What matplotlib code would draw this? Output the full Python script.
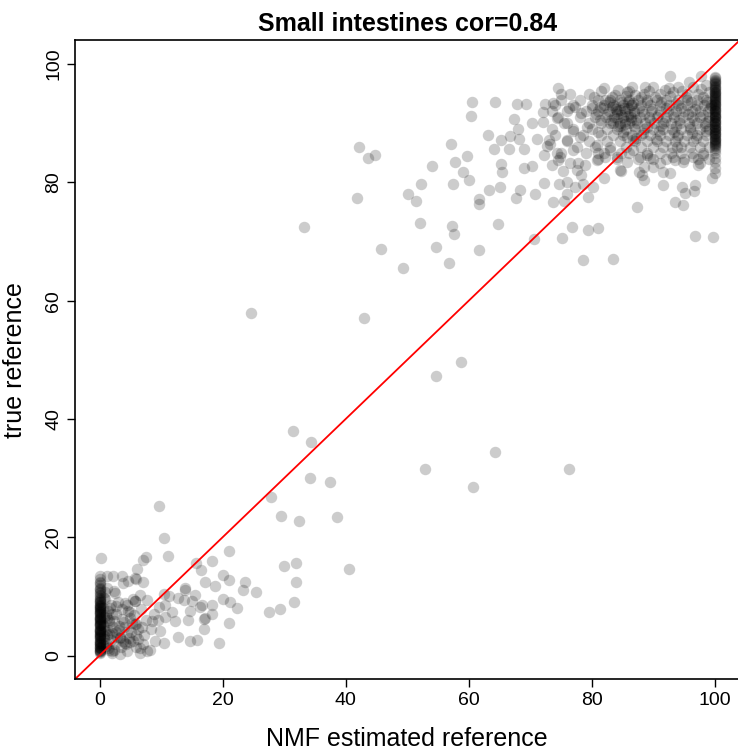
import numpy as np
import matplotlib.pyplot as plt

plt.rcParams['font.family'] = ['Liberation Sans', 'DejaVu Sans']

# points: NMF estimate (x) vs true reference (y)
# sparse points in the middle of the plot
mid_x = [42.2, 43.6, 44.8, 41.9, 33.2, 45.7, 49.3, 24.6, 42.9,
         31.5, 34.3, 34.2, 37.5, 27.8, 29.5, 32.4, 38.6, 40.5,
         58.8, 54.6, 64.3, 52.9, 76.2, 60.6]
mid_y = [86.0, 84.1, 84.6, 77.3, 72.4, 68.7, 65.5, 57.9, 57.1,
         38.0, 36.1, 30.1, 29.3, 26.8, 23.6, 22.8, 23.4, 14.7,
         49.6, 47.3, 34.4, 31.5, 31.5, 28.5]

# upper group, loosely spread part
up_x = [56.8, 61.7, 54.7, 57.2, 57.6, 52.0, 64.7, 70.6, 75.2, 76.8, 79.3, 81.0,
        78.5, 83.5, 87.3, 96.8, 99.7, 93.5, 94.8, 94.6, 95.2, 96.6, 96.7,
        91.6, 88.4, 87.7, 99.5, 92.7, 97.8, 75.0, 60.5, 64.3, 67.9, 69.3, 60.4,
        67.4, 63.1, 57.1, 59.7, 57.8, 54.0, 59.1, 60.1, 57.4, 52.2, 50.1, 51.5,
        61.7, 61.6, 63.2, 65.1, 67.6, 68.3, 70.8, 72.2, 74.7, 73.7, 75.5, 75.9,
        77.3, 78.6, 80.2, 79.4, 65.2, 65.4, 69.0, 70.3, 64.1, 65.2, 66.5, 66.7,
        68.1, 69.0, 68.0, 70.2, 71.0, 72.1, 72.0, 72.3, 73.7, 74.3, 73.0, 72.7,
        72.2, 74.3, 73.5, 74.8, 75.3, 76.4, 77.0, 77.5, 78.3, 78.9, 75.9, 77.0,
        75.5, 76.2, 77.3, 78.3, 79.2, 78.1, 80.0, 81.3, 81.3, 81.0, 82.1, 80.8,
        81.0, 82.1, 82.9, 84.6, 84.0, 85.7, 86.7, 87.8, 88.9, 88.4, 90.0, 91.1,
        91.6, 92.7, 93.2, 93.8, 94.8, 96.4, 97.2, 98.0, 86.7, 85.7, 73.2, 74.5,
        88.2, 84.7, 81.9, 77.8, 89.4, 93.5, 97.6, 84.8, 80.8, 75.9]
up_y = [66.3, 68.5, 69.1, 72.6, 71.2, 73.2, 72.9, 70.4, 70.6, 72.4, 71.9, 72.2,
        66.9, 67.0, 75.9, 70.9, 70.8, 76.6, 76.2, 79.2, 78.2, 78.6, 79.5,
        79.6, 80.4, 81.7, 80.7, 97.9, 98.0, 94.9, 93.6, 93.5, 93.2, 93.2, 91.3,
        90.7, 88.0, 86.5, 84.5, 83.5, 82.8, 81.7, 80.4, 79.7, 79.7, 78.1, 76.8,
        77.1, 76.4, 78.7, 79.2, 77.3, 78.7, 78.1, 79.9, 79.8, 76.6, 76.8, 78.1,
        79.2, 79.8, 79.2, 77.5, 83.1, 81.7, 82.5, 82.8, 85.6, 87.1, 85.6, 87.9,
        87.3, 85.7, 89.1, 90.0, 87.3, 90.2, 91.9, 93.3, 93.4, 90.8, 87.1, 86.1,
        84.6, 85.0, 82.9, 84.3, 81.9, 83.2, 85.4, 82.1, 81.2, 82.9, 87.1, 88.7,
        90.0, 92.5, 92.8, 91.7, 89.4, 87.7, 92.5, 92.8, 90.5, 88.5, 93.9, 86.3,
        84.9, 84.3, 85.4, 82.1, 84.3, 83.5, 85.4, 84.3, 84.6, 82.6, 82.6, 83.2,
        81.8, 81.5, 84.3, 86.0, 83.5, 84.3, 82.9, 84.6, 87.1, 87.7, 86.5, 83.8,
        81.2, 81.9, 80.8, 83.3, 84.2, 83.8, 83.2, 84.9, 83.8, 80.1]

# upper group, dense core (read row by row)
core_x = [74.5, 82.0, 86.5, 88.6, 90.0, 92.5, 94.0, 96.5, 98.5, 95.7,
          76.5, 79.5, 83.8, 85.7, 87.0, 88.5, 91.1, 93.2, 95.5, 97.3, 99.0,
          75.0, 78.0, 81.0, 83.0, 84.5, 86.0, 87.5, 89.0, 90.5, 92.0, 94.0, 95.5, 97.0, 98.5,
          74.0, 77.0, 80.0, 82.0, 83.5, 85.0, 86.5, 88.0, 89.5, 91.0, 92.5, 94.0, 95.5, 97.0, 98.2, 99.3,
          73.5, 76.0, 79.0, 81.0, 82.7, 84.0, 85.3, 86.8, 88.2, 89.6, 91.0, 92.3, 93.7, 95.0, 96.3, 97.6, 98.8,
          74.5, 78.0, 80.5, 82.3, 83.6, 85.0, 86.4, 87.8, 89.2, 90.6, 92.0, 93.4, 94.8, 96.2, 97.5, 99.0,
          76.0, 79.5, 81.5, 83.0, 84.5, 86.0, 87.3, 88.7, 90.1, 91.5, 92.9, 94.3, 95.7, 97.0, 98.4,
          73.5, 77.0, 80.0, 82.5, 84.0, 85.5, 87.0, 88.5, 90.0, 91.5, 93.0, 94.5, 96.0, 97.5, 99.0,
          74.0, 78.5, 81.5, 83.5, 85.0, 86.5, 88.0, 89.5, 91.0, 92.5, 94.0, 95.5, 97.0, 98.5,
          76.0, 79.5, 82.5, 84.5, 87.0, 89.0, 90.5, 92.0, 93.5, 95.0, 96.5, 98.0,
          77.5, 80.5, 83.0, 85.5, 88.0, 90.0, 91.5, 93.0, 94.5, 96.0, 97.5, 99.0,
          75.0, 79.0, 82.0, 86.0, 89.0, 91.0, 92.8, 94.5, 96.3, 98.0,
          81.0, 84.0, 87.5, 90.0, 92.0, 95.0, 97.2, 99.0,
          84.0, 85.2, 86.3, 83.5, 85.8, 84.6, 86.9, 83.2]
core_y = [96.0, 96.0, 96.2, 96.2, 96.2, 96.0, 96.2, 96.2, 96.5, 97.0,
          95.0, 95.0, 94.8, 95.3, 94.8, 95.0, 95.0, 95.3, 95.0, 95.0, 95.2,
          94.0, 94.0, 94.0, 94.0, 94.0, 94.0, 94.0, 94.0, 94.0, 94.0, 94.0, 94.0, 94.0, 94.0,
          93.0, 93.0, 93.0, 93.0, 93.0, 93.0, 93.0, 93.0, 93.0, 93.0, 93.0, 93.0, 93.0, 93.0, 93.0, 93.0,
          92.0, 92.0, 92.0, 92.0, 92.0, 92.0, 92.0, 92.0, 92.0, 92.0, 92.0, 92.0, 92.0, 92.0, 92.0, 92.0, 92.0,
          91.0, 91.0, 91.0, 91.0, 91.0, 91.0, 91.0, 91.0, 91.0, 91.0, 91.0, 91.0, 91.0, 91.0, 91.0, 91.0,
          90.0, 90.0, 90.0, 90.0, 90.0, 90.0, 90.0, 90.0, 90.0, 90.0, 90.0, 90.0, 90.0, 90.0, 90.0,
          89.0, 89.0, 89.0, 89.0, 89.0, 89.0, 89.0, 89.0, 89.0, 89.0, 89.0, 89.0, 89.0, 89.0, 89.0,
          88.0, 88.0, 88.0, 88.0, 88.0, 88.0, 88.0, 88.0, 88.0, 88.0, 88.0, 88.0, 88.0, 88.0,
          87.0, 87.0, 87.0, 87.0, 87.0, 87.0, 87.0, 87.0, 87.0, 87.0, 87.0, 87.0,
          86.0, 86.0, 86.0, 86.0, 86.0, 86.0, 86.0, 86.0, 86.0, 86.0, 86.0, 86.0,
          85.0, 85.0, 85.0, 85.0, 85.0, 85.0, 85.0, 85.0, 85.0, 85.0,
          84.0, 84.0, 84.0, 84.0, 84.0, 84.0, 84.0, 84.0,
          91.5, 92.5, 90.5, 90.0, 93.5, 89.5, 91.8, 92.8]

# dense core, in-between rows (darkest area around x 83-99)
core2_x = [81.5, 84.3, 86.1, 89.3, 91.8, 94.6, 97.8,
           80.3, 83.2, 85.6, 87.9, 90.2, 92.7, 95.3, 98.1,
           82.8, 84.9, 86.6, 88.9, 91.3, 93.6, 96.1, 98.7,
           81.8, 83.9, 85.9, 87.6, 89.8, 92.1, 94.4, 96.8, 99.2,
           80.6, 82.4, 84.7, 86.2, 88.4, 90.8, 93.1, 95.6, 98.0,
           83.1, 85.4, 87.2, 89.5, 91.9, 94.2, 96.6, 98.9,
           84.2, 86.8, 88.9, 91.2, 93.6, 95.9, 98.3,
           85.1, 88.3, 90.9, 93.4, 96.2, 98.6,
           87.1, 90.4, 93.8, 96.9,
           84.6, 85.9, 84.1, 86.4, 85.3, 83.8]
core2_y = [95.5, 95.6, 95.4, 95.5, 95.6, 95.5, 95.7,
           94.5, 94.4, 94.6, 94.5, 94.4, 94.6, 94.5, 94.5,
           93.5, 93.6, 93.4, 93.5, 93.6, 93.4, 93.5, 93.6,
           92.5, 92.4, 92.6, 92.5, 92.4, 92.6, 92.5, 92.4, 92.6,
           91.5, 91.6, 91.4, 91.5, 91.6, 91.4, 91.5, 91.6, 91.4,
           90.5, 90.4, 90.6, 90.5, 90.4, 90.6, 90.5, 90.4,
           89.5, 89.6, 89.4, 89.5, 89.6, 89.4, 89.5,
           88.5, 88.4, 88.6, 88.5, 88.4, 88.6,
           87.5, 87.4, 87.6, 87.5,
           92.2, 91.2, 90.8, 93.0, 89.8, 92.9]

# samples estimated at 100 %
top_col_y = [97.8, 97.3, 96.8, 96.3, 95.8, 95.3, 94.8, 94.3, 93.8, 93.3, 92.8,
             92.3, 91.8, 91.3, 90.8, 90.3, 89.8, 89.3, 88.8, 88.3, 87.8, 87.3,
             86.8, 86.3, 85.8, 85.0, 84.2, 83.5, 82.5, 81.5, 95.0, 93.0, 91.0,
             89.0, 87.0, 94.0, 92.0, 90.0, 88.0,
             97.6, 97.1, 96.6, 96.1, 95.6, 95.1, 94.6, 94.1, 93.6, 93.1, 92.6,
             92.1, 91.6, 91.1, 90.6, 90.1, 89.6, 89.1, 88.6, 88.1, 87.6, 87.1,
             86.6, 86.1, 97.0, 96.0, 95.2, 94.4, 93.4, 92.4, 91.4, 90.4, 89.4,
             88.4, 87.4, 86.4, 85.4]
top_col_x = [100.0] * len(top_col_y)

# lower group, spread part
low_x = [9.6, 10.4, 11.2, 0.2, 7.5, 7.1, 6.1, 21.0, 18.3, 15.6, 16.5, 20.0,
         21.1, 23.6, 23.3, 25.5, 29.9, 31.9, 32.0, 31.6, 29.4, 27.5, 18.8, 17.1,
         13.9, 15.5, 20.0, 22.3, 21.0, 19.4, 17.0, 18.2, 14.7, 15.8, 12.7, 11.3,
         12.7, 13.8, 15.0, 14.7, 17.1, 12.3, 10.6, 9.8, 10.4, 8.2, 6.6, 9.0,
         7.7, 5.7, 6.0, 7.1, 4.7, 3.6, 2.2, 1.2, 10.4, 9.6, 10.6, 11.7, 8.5,
         13.9, 21.2, 18.2, 16.6, 17.0, 16.3, 5.8, 3.8, 2.3, 14.3]
low_y = [25.3, 19.8, 16.9, 16.5, 16.6, 16.1, 14.7, 17.6, 15.9, 15.6, 14.5, 13.7,
         12.8, 12.5, 11.0, 10.8, 15.2, 15.6, 12.5, 9.1, 7.8, 7.3, 11.7, 12.5,
         11.4, 10.2, 9.6, 8.1, 5.5, 2.2, 4.5, 7.1, 2.4, 2.7, 3.2, 10.0,
         9.8, 9.4, 9.3, 7.5, 6.4, 5.9, 6.5, 4.2, 2.1, 1.0, 0.4, 2.5,
         9.4, 9.3, 13.0, 12.4, 12.6, 13.4, 13.5, 13.4, 10.4, 8.2, 8.5, 7.3, 5.9,
         11.0, 9.0, 8.6, 8.5, 6.2, 8.2, 13.1, 12.2, 10.9, 6.0]

# lower group, dense part near zero
base_x = [1.5, 2.5, 3.5, 4.5, 5.5, 6.5, 1.2, 2.2, 3.3, 4.4, 5.3, 6.2, 7.2,
          1.5, 2.6, 3.6, 4.6, 5.6, 6.7, 7.5, 1.8, 3.0, 4.2, 5.4, 6.5, 2.5,
          1.2, 8.3, 8.8, 9.5, 1.0, 2.0, 3.8, 4.8, 6.0, 7.0, 0.8, 1.3, 0.9,
          0.9, 5.8, 2.0, 5.0, 5.8, 6.9, 3.9, 2.8, 5.0, 6.0, 7.7, 2.0, 3.3,
          0.6, 0.7, 0.5, 0.8, 0.6, 0.7, 1.6, 2.4, 3.1, 4.1,
          1.1, 1.9, 2.7, 3.4, 4.3, 5.1, 6.3, 1.4, 2.3, 3.2, 4.0, 4.9, 5.9,
          1.0, 1.7, 2.6, 3.7, 4.5, 1.3, 2.1, 0.7, 1.5, 0.9, 1.2]
base_y = [1.0, 2.0, 1.5, 0.8, 2.5, 1.2, 3.5, 4.8, 3.2, 4.0, 5.5, 4.5, 3.4,
          6.0, 7.0, 6.2, 7.5, 6.8, 7.8, 6.0, 8.5, 9.0, 8.8, 9.6, 10.2, 10.5,
          11.5, 4.5, 7.0, 6.0, 2.2, 3.8, 2.5, 3.0, 3.5, 2.0, 5.0, 7.5, 9.5,
          10.7, 9.3, 7.1, 7.3, 5.4, 4.8, 4.8, 3.1, 2.3, 1.4, 0.8, 0.8, 0.3,
          1.8, 3.3, 5.2, 6.6, 8.1, 9.8, 5.6, 1.0, 5.0, 2.1,
          1.6, 2.6, 3.9, 2.9, 1.9, 3.9, 2.8, 4.4, 5.9, 4.3, 5.6, 6.4, 5.3,
          6.9, 8.0, 8.3, 7.9, 8.6, 1.2, 0.5, 2.8, 3.7, 4.1, 6.3]

# samples estimated at 0 %
zero_col_y = [0.5, 1.0, 1.5, 2.0, 2.5, 3.0, 3.5, 4.0, 4.5, 5.0, 5.5, 6.0, 6.5,
              7.0, 7.5, 8.0, 8.5, 9.0, 9.5, 10.0, 10.5, 11.0, 11.5, 12.0, 12.5,
              13.0, 13.5, 1.2, 2.2, 3.2, 4.2, 5.2, 6.2, 7.2, 8.2, 1.8, 3.8,
              5.8, 7.8, 0.8,
              0.6, 0.9, 1.3, 1.7, 2.1, 2.4, 2.8, 3.1, 3.4, 3.7, 4.1, 4.4, 4.7,
              5.1, 5.4, 5.7, 6.1, 6.4, 6.7, 7.1, 7.4, 7.7, 8.1, 8.4, 8.7, 9.1,
              9.4, 9.8, 10.3, 10.8, 11.3, 12.3, 0.7, 1.4, 2.3, 3.3, 4.3, 5.3,
              6.3, 7.3, 8.3, 9.3]
zero_col_x = [0.0] * len(zero_col_y)

nmf = np.concatenate([mid_x, up_x, core_x, core2_x, top_col_x,
                      low_x, base_x, zero_col_x])
true = np.concatenate([mid_y, up_y, core_y, core2_y, top_col_y,
                       low_y, base_y, zero_col_y])

fig = plt.figure(figsize=(7.38, 7.52), dpi=100)
ax = fig.add_axes([0.1015, 0.0968, 0.9007, 0.8495])

ax.scatter(nmf, true, s=68, c='black', alpha=0.2, linewidths=0)
ax.plot([-4, 104], [-4, 104], color='red', lw=1.3)

ax.set_xlim(-4, 104)
ax.set_ylim(-4, 104)
ax.set_xticks([0, 20, 40, 60, 80, 100])
ax.set_yticks([0, 20, 40, 60, 80, 100])
ax.tick_params(direction='out', length=6, width=1, labelsize=14, pad=3)
for lab in ax.get_yticklabels():
    lab.set_rotation(90)
    lab.set_va('center')
for side in ['left', 'bottom', 'top']:
    ax.spines[side].set_linewidth(1.2)
ax.spines['right'].set_visible(False)

ax.set_title('Small intestines cor=0.84', fontsize=18, fontweight='bold', pad=7)
ax.set_xlabel('NMF estimated reference', fontsize=18)
ax.set_ylabel('true reference', fontsize=18)
ax.xaxis.set_label_coords(0.5, -0.094)
ax.yaxis.set_label_coords(-0.09, 0.5)
ax.xaxis.label.set_va('center')
ax.yaxis.label.set_va('center')

fig.savefig('out.png', dpi=100)
